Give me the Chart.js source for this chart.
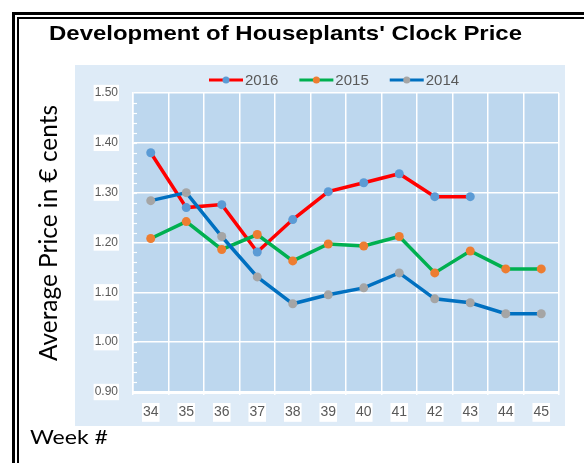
<!DOCTYPE html>
<html>
<head>
<meta charset="utf-8">
<script src="https://cdn.jsdelivr.net/npm/chart.js@4.4.0/dist/chart.umd.min.js"></script>
<style>
  html, body { margin: 0; padding: 0; background: #fff; }
</style>
</head>
<body>
<canvas id="myChart" width="584" height="463"></canvas>
<script>
// Chart data
const weeks = ['34', '35', '36', '37', '38', '39', '40', '41', '42', '43', '44', '45'];
const price2016 = [1.38, 1.27, 1.276, 1.181, 1.246, 1.302, 1.32, 1.338, 1.292, 1.292, null, null];
const price2015 = [1.208, 1.242, 1.186, 1.216, 1.163, 1.197, 1.193, 1.212, 1.139, 1.183, 1.147, 1.147];
const price2014 = [1.284, 1.3, 1.212, 1.131, 1.077, 1.095, 1.109, 1.139, 1.087, 1.079, 1.057, 1.057];
const yTickValues = [0.90, 1.00, 1.10, 1.20, 1.30, 1.40, 1.50];

const chartTitle = "Development of Houseplants' Clock Price";
const yTitle = 'Average Price in € cents';
const xTitle = 'Week #';

let ctx = document.getElementById('myChart');

// fill the text so it takes a given width (reference looks stretched)
function fitText(c, text, x, y, width) {
  let w = c.measureText(text).width;
  c.save();
  c.translate(x, y);
  c.scale(width / w, 1);
  c.fillText(text, 0, 0);
  c.restore();
}

// background, double frame and light panel
const framePlugin = {
  id: 'frame',
  beforeDraw(chart) {
    let c = chart.ctx;
    let area = chart.chartArea;
    c.save();
    c.fillStyle = '#ffffff';
    c.fillRect(0, 0, chart.width, chart.height);
    c.fillStyle = '#000000';
    c.fillRect(12, 12, 3, chart.height);
    c.fillRect(12, 12, chart.width, 3);
    c.fillRect(17, 17, 2, chart.height);
    c.fillRect(17, 17, chart.width, 2);
    c.fillStyle = '#deebf7';
    c.fillRect(75, 65, 490, 361);
    c.fillStyle = '#bdd7ee';
    c.fillRect(area.left, area.top, area.right - area.left, area.bottom - area.top);
    c.restore();
  },
  afterDraw(chart) {
    let c = chart.ctx;
    let y = chart.scales.y;
    let area = chart.chartArea;
    c.save();

    // minor ticks on the value axis
    c.strokeStyle = '#ffffff';
    c.lineWidth = 1.2;
    for (let v = 0.92; v < 1.5; v += 0.02) {
      let py = Math.round(y.getPixelForValue(v)) + 0.5;
      c.beginPath();
      c.moveTo(area.left, py);
      c.lineTo(area.left + 4, py);
      c.stroke();
    }

    // titles
    c.fillStyle = '#000000';
    c.textBaseline = 'alphabetic';
    c.textAlign = 'left';
    c.font = 'bold 21px "Liberation Sans", Arial, sans-serif';
    fitText(c, chartTitle, 49, 40, 473);

    c.font = '20px Lato, sans-serif';
    fitText(c, xTitle, 30, 444, 78);

    c.save();
    c.translate(57, 361);
    c.rotate(-Math.PI / 2);
    c.font = '25px Lato, sans-serif';
    fitText(c, yTitle, 0, 0, 256);
    c.restore();

    // legend: line with a marker, then the year
    let lx = 209;
    let ly = 80;
    c.font = '15px "Liberation Sans", Arial, sans-serif';
    c.textBaseline = 'middle';
    chart.data.datasets.forEach(function(ds) {
      c.strokeStyle = ds.borderColor;
      c.lineWidth = 3;
      c.beginPath();
      c.moveTo(lx, ly);
      c.lineTo(lx + 34, ly);
      c.stroke();
      c.fillStyle = ds.pointBackgroundColor;
      c.beginPath();
      c.arc(lx + 17, ly, 3.5, 0, Math.PI * 2);
      c.fill();
      c.fillStyle = '#595959';
      c.fillText(ds.label, lx + 36, ly + 1);
      lx += 36 + c.measureText(ds.label).width + 21;
    });
    c.restore();
  }
};

let myChart = new Chart(ctx, {
  type: 'line',
  data: {
    labels: weeks,
    datasets: [{
      label: '2016',
      data: price2016,
      borderColor: '#ff0000',
      pointBackgroundColor: '#5b9bd5',
      pointBorderColor: '#5b9bd5',
      order: 3
    }, {
      label: '2015',
      data: price2015,
      borderColor: '#00b050',
      pointBackgroundColor: '#ed7d31',
      pointBorderColor: '#ed7d31',
      order: 2
    }, {
      label: '2014',
      data: price2014,
      borderColor: '#0070c0',
      pointBackgroundColor: '#a5a5a5',
      pointBorderColor: '#a5a5a5',
      order: 1
    }]
  },
  options: {
    responsive: false,
    animation: false,
    devicePixelRatio: 1,
    layout: {
      padding: { left: 0, top: 93, right: 25, bottom: 31 }
    },
    elements: {
      line: { borderWidth: 3.5, tension: 0 },
      point: { radius: 4.5, borderWidth: 0 }
    },
    plugins: {
      legend: { display: false },
      title: { display: false },
      tooltip: { enabled: false }
    },
    scales: {
      x: {
        offset: true,
        grid: {
          offset: true,
          color: '#ffffff',
          lineWidth: 1.5,
          drawTicks: true,
          tickLength: 3,
          tickColor: '#ffffff'
        },
        border: { color: '#ffffff', width: 3 },
        ticks: {
          color: '#595959',
          font: { family: '"Liberation Sans", Arial, sans-serif', size: 14 },
          padding: 9,
          maxRotation: 0,
          showLabelBackdrop: true,
          backdropColor: '#ffffff',
          backdropPadding: 1
        },
        afterFit(scale) { scale.height = 40; }
      },
      y: {
        min: 0.9,
        max: 1.5,
        afterBuildTicks(scale) {
          scale.ticks = yTickValues.map(v => ({ value: v }));
        },
        grid: {
          color: '#ffffff',
          lineWidth: 1.5,
          drawTicks: false
        },
        border: { color: '#ffffff', width: 1.5 },
        ticks: {
          color: '#595959',
          font: { family: '"Liberation Sans", Arial, sans-serif', size: 12 },
          padding: 15,
          callback: v => Number(v).toFixed(2),
          showLabelBackdrop: true,
          backdropColor: '#ffffff',
          backdropPadding: 1
        },
        afterFit(scale) { scale.width = 133; }
      }
    }
  },
  plugins: [framePlugin]
});
</script>
</body>
</html>
